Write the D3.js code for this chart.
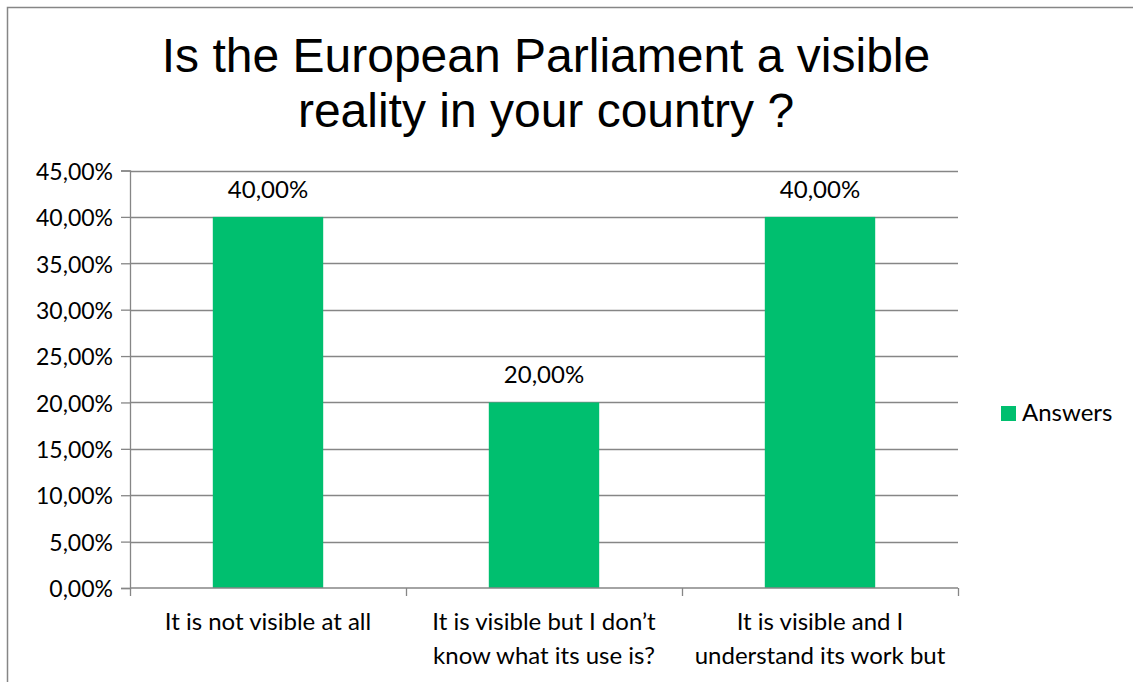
<!DOCTYPE html>
<html><head><meta charset="utf-8">
<script src="https://cdn.jsdelivr.net/npm/d3@7"></script>
<style>html,body{margin:0;padding:0;background:#fff;}svg{display:block;}</style>
</head><body>
<svg id="chart" width="1133" height="682"></svg>
<script>
const titleLines = ["Is the European Parliament a visible", "reality in your country ?"];
const categories = [
  ["It is not visible at all"],
  ["It is visible but I don\u2019t", "know what its use is?"],
  ["It is visible and I", "understand its work but"]
];
const answers = [0.40, 0.20, 0.40];
const yTicks = [0, 0.05, 0.10, 0.15, 0.20, 0.25, 0.30, 0.35, 0.40, 0.45];
const seriesName = "Answers";

(function () {
const fmt = v => d3.format(".2f")(v * 100).replace(".", ",") + "%";
const svg = d3.select("#chart");
const gridColor = "#868686";
const barColor = "#00BF6F";
const lblFont = "Lato, 'Open Sans', sans-serif";
const fs = 24;

// chart border
svg.append("rect").attr("x", 7.5).attr("y", 7.5).attr("width", 1300).attr("height", 900)
  .attr("fill", "#fff").attr("stroke", gridColor).attr("stroke-width", 1.5);

// title
svg.append("g").selectAll("text").data(titleLines).join("text")
  .attr("x", 546).attr("y", (d, i) => 72 + i * 55)
  .attr("text-anchor", "middle")
  .attr("font-family", "'Liberation Sans', Arial, sans-serif")
  .attr("font-size", 48).attr("fill", "#000").text(d => d);

const pL = 130, pR = 958, pT = 170.5, pB = 588;
const x = d3.scaleBand().domain(d3.range(categories.length)).range([pL, pR])
  .paddingInner(0.6).paddingOuter(0.3);
const y = d3.scaleLinear().domain([0, 0.45]).range([pB, pT]);

// gridlines
svg.append("g").selectAll("line").data(yTicks.filter(t => t > 0)).join("line")
  .attr("x1", pL).attr("x2", pR)
  .attr("y1", d => Math.round(y(d)) + 0.5).attr("y2", d => Math.round(y(d)) + 0.5)
  .attr("stroke", gridColor).attr("stroke-width", 1.3);

// bars
svg.append("g").selectAll("rect").data(answers).join("rect")
  .attr("x", (d, i) => x(i)).attr("width", x.bandwidth())
  .attr("y", d => y(d)).attr("height", d => pB - y(d))
  .attr("fill", barColor);

// value labels
svg.append("g").selectAll("text").data(answers).join("text")
  .attr("x", (d, i) => x(i) + x.bandwidth() / 2).attr("y", d => y(d) - 19)
  .attr("text-anchor", "middle").attr("font-family", lblFont).attr("font-size", fs)
  .attr("fill", "#000").text(d => fmt(d));

// y axis
const yAxis = svg.append("g").attr("transform", `translate(${pL},0)`)
  .call(d3.axisLeft(y).tickValues(yTicks).tickSize(9).tickPadding(8).tickFormat(fmt));
yAxis.select(".domain").attr("stroke", gridColor).attr("stroke-width", 1.3);
yAxis.selectAll(".tick line").attr("stroke", gridColor).attr("stroke-width", 1.3);
yAxis.selectAll(".tick text").attr("font-family", lblFont).attr("font-size", 23)
  .attr("fill", "#000").attr("dy", "0.38em");

// x axis
const xEdges = d3.scaleLinear().domain([0, categories.length]).range([pL, pR]);
const xg = svg.append("g");
xg.append("line").attr("x1", pL).attr("x2", pR)
  .attr("y1", pB).attr("y2", pB).attr("stroke", gridColor).attr("stroke-width", 1.3);
xg.selectAll("line.tk").data(d3.range(categories.length + 1)).join("line").attr("class", "tk")
  .attr("x1", d => Math.round(xEdges(d)) + 0.5).attr("x2", d => Math.round(xEdges(d)) + 0.5)
  .attr("y1", pB).attr("y2", pB + 8).attr("stroke", gridColor).attr("stroke-width", 1.3);
const xl = xg.selectAll("text").data(categories).join("text")
  .attr("text-anchor", "middle").attr("font-family", lblFont).attr("font-size", fs).attr("fill", "#000");
xl.selectAll("tspan").data((d, i) => d.map(s => ({s, i}))).join("tspan")
  .attr("x", d => x(d.i) + x.bandwidth() / 2)
  .attr("y", (d, j) => 630 + j * 34).text(d => d.s);

// legend
svg.append("rect").attr("x", 1001).attr("y", 406).attr("width", 15).attr("height", 15).attr("fill", barColor);
svg.append("text").attr("x", 1022).attr("y", 421).attr("font-family", lblFont).attr("font-size", fs)
  .attr("fill", "#000").text(seriesName);
})();
</script>
</body></html>
